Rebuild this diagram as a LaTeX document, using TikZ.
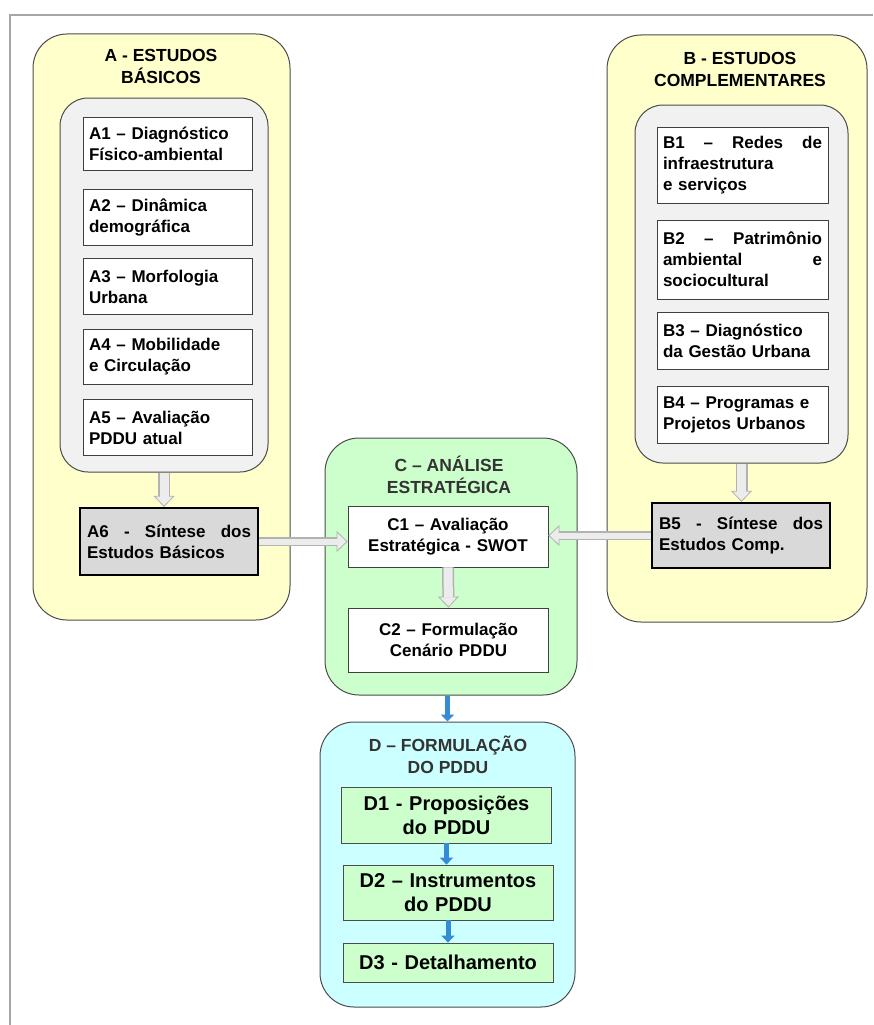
\documentclass[tikz,border=0pt]{standalone}
\usepackage{fontspec}
\setmainfont{Liberation Sans}
\usetikzlibrary{arrows.meta}

\definecolor{amarelo}{RGB}{255,255,204}
\definecolor{cinzaclaro}{RGB}{241,241,241}
\definecolor{verdeclaro}{RGB}{204,255,204}
\definecolor{cianoclaro}{RGB}{204,255,255}
\definecolor{azulseta}{RGB}{52,140,212}

\begin{document}
\begin{tikzpicture}[x=1pt, y=-1pt,
    grupo/.style={draw=black!70, line width=1pt, rounded corners=34pt, inner sep=0pt},
    painel/.style={draw=black!70, line width=1pt, rounded corners=28pt, inner sep=0pt, fill=cinzaclaro},
    titulo/.style={align=center, font=\fontsize{17.5}{22}\selectfont\bfseries},
    etapa/.style={draw=black!75, line width=0.8pt, fill=white, inner sep=6pt, align=left,
        font=\fontsize{17}{21}\selectfont\bfseries},
    sintese/.style={draw=black, line width=2.2pt, fill=gray!30, inner sep=7pt, align=left,
        text width=164pt, font=\fontsize{17}{21}\selectfont\bfseries},
    etapaD/.style={draw=black!70, line width=0.8pt, fill=verdeclaro, align=center,
        text width=198pt, inner sep=6pt, font=\fontsize{20}{24}\selectfont\bfseries},
    seta/.style 2 args={draw=gray!60, line width=#1,
        -{Triangle[length=11pt, width=21pt, line width=0.8pt, fill=gray!15]},
        postaction={draw=gray!15, line width=#2, shorten >=10pt, -}},
    setaazul/.style={draw=azulseta, line width=5pt, -{Triangle[length=7pt, width=13pt]}}]

    \useasboundingbox (0,0) rectangle (873,1025);

    % moldura
    \draw[gray!70, line width=1.2pt] (10,1025) -- (10,15) -- (873,15);

    % bloco A
    \node[grupo, fill=amarelo, minimum width=257pt, minimum height=586pt] (A) at (161.5,327) {};
    \node[titulo] (tA) at (161,66) {A - ESTUDOS\\BÁSICOS};
    \node[painel, minimum width=208pt, minimum height=374pt] (Ain) at (164,285) {};
    \node[etapa, text width=157pt, minimum height=53pt] (A1) at (167.5,143.5) {A1 – Diagnóstico\\Físico-ambiental};
    \node[etapa, text width=157pt, minimum height=56pt] (A2) at (167.5,217) {A2 – Dinâmica\\demográfica};
    \node[etapa, text width=157pt, minimum height=56pt] (A3) at (167.5,286.5) {A3 – Morfologia\\Urbana};
    \node[etapa, text width=157pt, minimum height=55pt] (A4) at (167.5,357) {A4 – Mobilidade\\e Circulação};
    \node[etapa, text width=157pt, minimum height=56pt] (A5) at (167.5,427.5) {A5 – Avaliação\\PDDU atual};
    \node[sintese, minimum height=67pt] (A6) at (169,541.5) {A6 \hfill - \hfill Síntese \hfill dos\\Estudos Básicos};

    % bloco B
    \node[grupo, fill=amarelo, minimum width=260pt, minimum height=587pt] (B) at (737,328.5) {};
    \node[titulo] (tB) at (740,69) {B - ESTUDOS\\COMPLEMENTARES};
    \node[painel, minimum width=213pt, minimum height=358pt] (Bin) at (741.5,284) {};
    \node[etapa, text width=159pt, minimum height=76pt] (B1) at (742.5,165) {B1 \hfill – \hfill Redes \hfill de\\infraestrutura\\e serviços};
    \node[etapa, text width=159pt, minimum height=79pt] (B2) at (742.5,259.5) {B2 \hfill – \hfill Patrimônio\\ambiental \hfill e\\sociocultural};
    \node[etapa, text width=159pt, minimum height=57pt] (B3) at (742.5,340.5) {B3 – Diagnóstico\\da Gestão Urbana};
    \node[etapa, text width=159pt, minimum height=57pt] (B4) at (742.5,414.5) {B4 – Programas e\\Projetos Urbanos};
    \node[sintese, minimum height=65pt] (B5) at (741,535.5) {B5 \hfill - \hfill Síntese \hfill dos\\Estudos Comp.};

    % bloco C
    \node[grupo, fill=verdeclaro, minimum width=252pt, minimum height=257pt] (C) at (451,566.5) {};
    \node[titulo, text=black!80] (tC) at (449,475) {C – ANÁLISE\\ESTRATÉGICA};
    \node[etapa, align=center, text width=188pt, minimum height=61pt] (C1) at (448,536.5) {C1 – Avaliação\\Estratégica - SWOT};
    \node[etapa, align=center, text width=188pt, minimum height=64pt] (C2) at (448.5,640) {C2 – Formulação\\Cenário PDDU};

    % bloco D
    \node[grupo, fill=cianoclaro, minimum width=255pt, minimum height=285pt] (D) at (447.5,864.5) {};
    \node[titulo, text=black!80] (tD) at (448,755) {D – FORMULAÇÃO\\DO PDDU};
    \node[etapaD, minimum height=56pt] (D1) at (446.5,815) {D1 - Proposições\\do PDDU};
    \node[etapaD, minimum height=55pt] (D2) at (448,892.5) {D2 – Instrumentos\\do PDDU};
    \node[etapaD, minimum height=39pt] (D3) at (448,962.5) {D3 - Detalhamento};

    % setas cinza
    \draw[seta={12pt}{9pt}] (Ain.south) -- (Ain.south |- A6.north);
    \draw[seta={12pt}{9pt}] (Bin.south) -- (Bin.south |- B5.north);
    \draw[seta={9pt}{6pt}] (A6.east) -- (A6.east -| C1.west);
    \draw[seta={9pt}{6pt}] (B5.west) -- (B5.west -| C1.east);
    \draw[seta={12pt}{9pt}] (C1.south) -- (C2.north);

    % setas azuis
    \draw[setaazul] (D.north |- C.south) -- (D.north);
    \draw[setaazul] (D1.south) -- (D1.south |- D2.north);
    \draw[setaazul] (D2.south) -- (D2.south |- D3.north);
\end{tikzpicture}
\end{document}
